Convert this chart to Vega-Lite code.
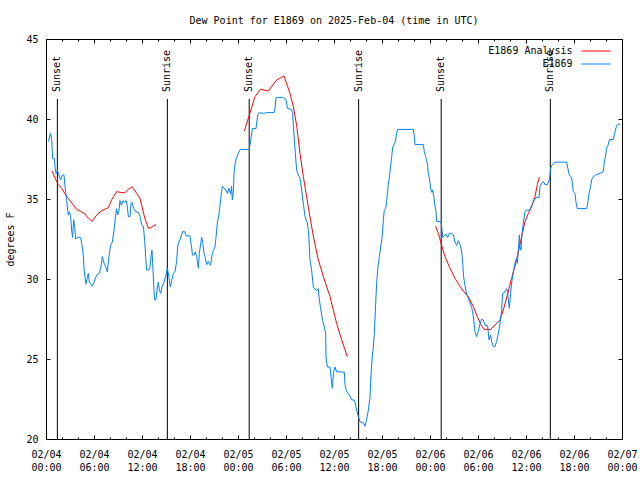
{
  "$schema": "https://vega.github.io/schema/vega-lite/v6.json",
  "width": 576,
  "height": 400,
  "autosize": {"type": "none"},
  "padding": {"left": 46, "top": 39, "right": 18, "bottom": 41},
  "background": "white",
  "title": {"text": "Dew Point for E1869 on 2025-Feb-04 (time in UTC)", "font": "DejaVu Sans Mono", "fontSize": 10, "fontWeight": "normal", "color": "black", "offset": 8},
  "config": {
    "view": {"stroke": "black", "strokeWidth": 1},
    "axis": {"domain": false, "grid": false, "tickColor": "black", "labelColor": "black", "labelFont": "DejaVu Sans Mono", "labelFontSize": 10, "titleFont": "DejaVu Sans Mono", "titleFontSize": 10, "titleFontWeight": "normal", "titleColor": "black"},
    "legend": {"labelFont": "DejaVu Sans Mono", "labelFontSize": 10, "labelColor": "black"}
  },
  "datasets": {
    "events": [
      {"event": "Sunset", "hour": 1.42},
      {"event": "Sunrise", "hour": 15.17},
      {"event": "Sunset", "hour": 25.4},
      {"event": "Sunrise", "hour": 39.08},
      {"event": "Sunset", "hour": 49.4},
      {"event": "Sunrise", "hour": 63.04}
    ],
    "analysis": [
      {"series": "E1869 Analysis", "segment": 1, "hour": 0.79, "dewpoint": 36.75},
      {"series": "E1869 Analysis", "segment": 1, "hour": 1.125, "dewpoint": 36.3},
      {"series": "E1869 Analysis", "segment": 1, "hour": 1.54, "dewpoint": 35.9},
      {"series": "E1869 Analysis", "segment": 1, "hour": 1.96, "dewpoint": 35.67},
      {"series": "E1869 Analysis", "segment": 1, "hour": 2.46, "dewpoint": 35.25},
      {"series": "E1869 Analysis", "segment": 1, "hour": 2.79, "dewpoint": 35.04},
      {"series": "E1869 Analysis", "segment": 1, "hour": 3.2, "dewpoint": 34.77},
      {"series": "E1869 Analysis", "segment": 1, "hour": 3.83, "dewpoint": 34.35},
      {"series": "E1869 Analysis", "segment": 1, "hour": 4.46, "dewpoint": 34.2},
      {"series": "E1869 Analysis", "segment": 1, "hour": 4.875, "dewpoint": 34.06},
      {"series": "E1869 Analysis", "segment": 1, "hour": 5.29, "dewpoint": 33.8},
      {"series": "E1869 Analysis", "segment": 1, "hour": 5.79, "dewpoint": 33.6},
      {"series": "E1869 Analysis", "segment": 1, "hour": 6.33, "dewpoint": 34.0},
      {"series": "E1869 Analysis", "segment": 1, "hour": 6.96, "dewpoint": 34.27},
      {"series": "E1869 Analysis", "segment": 1, "hour": 7.79, "dewpoint": 34.46},
      {"series": "E1869 Analysis", "segment": 1, "hour": 8.2, "dewpoint": 34.94},
      {"series": "E1869 Analysis", "segment": 1, "hour": 8.83, "dewpoint": 35.46},
      {"series": "E1869 Analysis", "segment": 1, "hour": 9.46, "dewpoint": 35.4},
      {"series": "E1869 Analysis", "segment": 1, "hour": 9.875, "dewpoint": 35.4},
      {"series": "E1869 Analysis", "segment": 1, "hour": 10.29, "dewpoint": 35.6},
      {"series": "E1869 Analysis", "segment": 1, "hour": 10.79, "dewpoint": 35.77},
      {"series": "E1869 Analysis", "segment": 1, "hour": 11.33, "dewpoint": 35.35},
      {"series": "E1869 Analysis", "segment": 1, "hour": 11.75, "dewpoint": 35.04},
      {"series": "E1869 Analysis", "segment": 1, "hour": 11.96, "dewpoint": 34.63},
      {"series": "E1869 Analysis", "segment": 1, "hour": 12.25, "dewpoint": 34.0},
      {"series": "E1869 Analysis", "segment": 1, "hour": 12.5, "dewpoint": 33.58},
      {"series": "E1869 Analysis", "segment": 1, "hour": 12.79, "dewpoint": 33.17},
      {"series": "E1869 Analysis", "segment": 1, "hour": 13.2, "dewpoint": 33.23},
      {"series": "E1869 Analysis", "segment": 1, "hour": 13.75, "dewpoint": 33.4},
      {"series": "E1869 Analysis", "segment": 2, "hour": 24.79, "dewpoint": 39.25},
      {"series": "E1869 Analysis", "segment": 2, "hour": 25.42, "dewpoint": 40.25},
      {"series": "E1869 Analysis", "segment": 2, "hour": 26.125, "dewpoint": 41.4},
      {"series": "E1869 Analysis", "segment": 2, "hour": 26.83, "dewpoint": 41.86},
      {"series": "E1869 Analysis", "segment": 2, "hour": 27.79, "dewpoint": 41.75},
      {"series": "E1869 Analysis", "segment": 2, "hour": 28.83, "dewpoint": 42.44},
      {"series": "E1869 Analysis", "segment": 2, "hour": 29.75, "dewpoint": 42.69},
      {"series": "E1869 Analysis", "segment": 2, "hour": 30.5, "dewpoint": 41.6},
      {"series": "E1869 Analysis", "segment": 2, "hour": 30.92, "dewpoint": 40.77},
      {"series": "E1869 Analysis", "segment": 2, "hour": 31.33, "dewpoint": 39.6},
      {"series": "E1869 Analysis", "segment": 2, "hour": 31.75, "dewpoint": 37.85},
      {"series": "E1869 Analysis", "segment": 2, "hour": 32.17, "dewpoint": 36.4},
      {"series": "E1869 Analysis", "segment": 2, "hour": 32.79, "dewpoint": 34.5},
      {"series": "E1869 Analysis", "segment": 2, "hour": 33.42, "dewpoint": 32.65},
      {"series": "E1869 Analysis", "segment": 2, "hour": 34.04, "dewpoint": 31.2},
      {"series": "E1869 Analysis", "segment": 2, "hour": 34.67, "dewpoint": 30.15},
      {"series": "E1869 Analysis", "segment": 2, "hour": 35.5, "dewpoint": 28.9},
      {"series": "E1869 Analysis", "segment": 2, "hour": 36.33, "dewpoint": 27.23},
      {"series": "E1869 Analysis", "segment": 2, "hour": 36.96, "dewpoint": 26.2},
      {"series": "E1869 Analysis", "segment": 2, "hour": 37.67, "dewpoint": 25.14},
      {"series": "E1869 Analysis", "segment": 3, "hour": 48.7, "dewpoint": 33.3},
      {"series": "E1869 Analysis", "segment": 3, "hour": 49.04, "dewpoint": 32.86},
      {"series": "E1869 Analysis", "segment": 3, "hour": 49.46, "dewpoint": 32.1},
      {"series": "E1869 Analysis", "segment": 3, "hour": 49.875, "dewpoint": 31.4},
      {"series": "E1869 Analysis", "segment": 3, "hour": 50.5, "dewpoint": 30.67},
      {"series": "E1869 Analysis", "segment": 3, "hour": 51.125, "dewpoint": 30.04},
      {"series": "E1869 Analysis", "segment": 3, "hour": 51.67, "dewpoint": 29.6},
      {"series": "E1869 Analysis", "segment": 3, "hour": 52.25, "dewpoint": 29.2},
      {"series": "E1869 Analysis", "segment": 3, "hour": 52.79, "dewpoint": 28.9},
      {"series": "E1869 Analysis", "segment": 3, "hour": 53.42, "dewpoint": 28.27},
      {"series": "E1869 Analysis", "segment": 3, "hour": 53.92, "dewpoint": 27.64},
      {"series": "E1869 Analysis", "segment": 3, "hour": 54.33, "dewpoint": 27.19},
      {"series": "E1869 Analysis", "segment": 3, "hour": 54.75, "dewpoint": 26.85},
      {"series": "E1869 Analysis", "segment": 3, "hour": 55.58, "dewpoint": 26.85},
      {"series": "E1869 Analysis", "segment": 3, "hour": 56.125, "dewpoint": 27.13},
      {"series": "E1869 Analysis", "segment": 3, "hour": 56.75, "dewpoint": 27.44},
      {"series": "E1869 Analysis", "segment": 3, "hour": 57.17, "dewpoint": 28.06},
      {"series": "E1869 Analysis", "segment": 3, "hour": 57.67, "dewpoint": 29.0},
      {"series": "E1869 Analysis", "segment": 3, "hour": 58.2, "dewpoint": 30.04},
      {"series": "E1869 Analysis", "segment": 3, "hour": 58.83, "dewpoint": 31.2},
      {"series": "E1869 Analysis", "segment": 3, "hour": 59.46, "dewpoint": 32.65},
      {"series": "E1869 Analysis", "segment": 3, "hour": 59.875, "dewpoint": 33.58},
      {"series": "E1869 Analysis", "segment": 3, "hour": 60.29, "dewpoint": 34.1},
      {"series": "E1869 Analysis", "segment": 3, "hour": 60.7, "dewpoint": 34.52},
      {"series": "E1869 Analysis", "segment": 3, "hour": 61.125, "dewpoint": 35.15},
      {"series": "E1869 Analysis", "segment": 3, "hour": 61.42, "dewpoint": 35.9},
      {"series": "E1869 Analysis", "segment": 3, "hour": 61.67, "dewpoint": 36.36}
    ],
    "obs": [
      {"series": "E1869", "hour": 0.29, "dewpoint": 38.58},
      {"series": "E1869", "hour": 0.5, "dewpoint": 39.0},
      {"series": "E1869", "hour": 0.58, "dewpoint": 39.1},
      {"series": "E1869", "hour": 0.71, "dewpoint": 38.7},
      {"series": "E1869", "hour": 0.79, "dewpoint": 37.96},
      {"series": "E1869", "hour": 0.83, "dewpoint": 37.54},
      {"series": "E1869", "hour": 1.04, "dewpoint": 37.54},
      {"series": "E1869", "hour": 1.125, "dewpoint": 37.0},
      {"series": "E1869", "hour": 1.25, "dewpoint": 36.6},
      {"series": "E1869", "hour": 1.42, "dewpoint": 36.8},
      {"series": "E1869", "hour": 1.6, "dewpoint": 36.5},
      {"series": "E1869", "hour": 1.83, "dewpoint": 36.2},
      {"series": "E1869", "hour": 2.04, "dewpoint": 36.5},
      {"series": "E1869", "hour": 2.25, "dewpoint": 36.5},
      {"series": "E1869", "hour": 2.375, "dewpoint": 35.8},
      {"series": "E1869", "hour": 2.46, "dewpoint": 35.45},
      {"series": "E1869", "hour": 2.58, "dewpoint": 34.9},
      {"series": "E1869", "hour": 2.71, "dewpoint": 34.3},
      {"series": "E1869", "hour": 2.79, "dewpoint": 34.0},
      {"series": "E1869", "hour": 2.92, "dewpoint": 34.2},
      {"series": "E1869", "hour": 3.08, "dewpoint": 33.9},
      {"series": "E1869", "hour": 3.2, "dewpoint": 33.06},
      {"series": "E1869", "hour": 3.33, "dewpoint": 32.6},
      {"series": "E1869", "hour": 3.46, "dewpoint": 33.7},
      {"series": "E1869", "hour": 3.58, "dewpoint": 33.3},
      {"series": "E1869", "hour": 3.71, "dewpoint": 32.5},
      {"series": "E1869", "hour": 3.92, "dewpoint": 32.6},
      {"series": "E1869", "hour": 4.33, "dewpoint": 32.6},
      {"series": "E1869", "hour": 4.54, "dewpoint": 32.0},
      {"series": "E1869", "hour": 4.67, "dewpoint": 31.4},
      {"series": "E1869", "hour": 4.75, "dewpoint": 30.7},
      {"series": "E1869", "hour": 4.875, "dewpoint": 30.1},
      {"series": "E1869", "hour": 5.0, "dewpoint": 29.7},
      {"series": "E1869", "hour": 5.17, "dewpoint": 30.1},
      {"series": "E1869", "hour": 5.29, "dewpoint": 30.35},
      {"series": "E1869", "hour": 5.42, "dewpoint": 29.8},
      {"series": "E1869", "hour": 5.625, "dewpoint": 29.67},
      {"series": "E1869", "hour": 5.79, "dewpoint": 29.56},
      {"series": "E1869", "hour": 6.0, "dewpoint": 29.8},
      {"series": "E1869", "hour": 6.2, "dewpoint": 30.1},
      {"series": "E1869", "hour": 6.42, "dewpoint": 30.3},
      {"series": "E1869", "hour": 6.67, "dewpoint": 30.35},
      {"series": "E1869", "hour": 6.875, "dewpoint": 30.77},
      {"series": "E1869", "hour": 7.04, "dewpoint": 31.4},
      {"series": "E1869", "hour": 7.25, "dewpoint": 31.0},
      {"series": "E1869", "hour": 7.46, "dewpoint": 30.77},
      {"series": "E1869", "hour": 7.67, "dewpoint": 30.45},
      {"series": "E1869", "hour": 7.875, "dewpoint": 31.4},
      {"series": "E1869", "hour": 8.08, "dewpoint": 32.1},
      {"series": "E1869", "hour": 8.29, "dewpoint": 32.3},
      {"series": "E1869", "hour": 8.5, "dewpoint": 33.06},
      {"series": "E1869", "hour": 8.71, "dewpoint": 34.0},
      {"series": "E1869", "hour": 8.83, "dewpoint": 34.4},
      {"series": "E1869", "hour": 8.96, "dewpoint": 34.0},
      {"series": "E1869", "hour": 9.125, "dewpoint": 34.3},
      {"series": "E1869", "hour": 9.25, "dewpoint": 34.9},
      {"series": "E1869", "hour": 9.42, "dewpoint": 34.6},
      {"series": "E1869", "hour": 9.625, "dewpoint": 34.9},
      {"series": "E1869", "hour": 9.83, "dewpoint": 34.8},
      {"series": "E1869", "hour": 10.04, "dewpoint": 34.9},
      {"series": "E1869", "hour": 10.17, "dewpoint": 34.5},
      {"series": "E1869", "hour": 10.29, "dewpoint": 33.9},
      {"series": "E1869", "hour": 10.5, "dewpoint": 33.9},
      {"series": "E1869", "hour": 10.625, "dewpoint": 34.7},
      {"series": "E1869", "hour": 10.75, "dewpoint": 34.8},
      {"series": "E1869", "hour": 10.96, "dewpoint": 34.4},
      {"series": "E1869", "hour": 11.25, "dewpoint": 34.2},
      {"series": "E1869", "hour": 11.58, "dewpoint": 34.15},
      {"series": "E1869", "hour": 11.75, "dewpoint": 33.9},
      {"series": "E1869", "hour": 11.96, "dewpoint": 33.4},
      {"series": "E1869", "hour": 12.17, "dewpoint": 33.3},
      {"series": "E1869", "hour": 12.33, "dewpoint": 32.44},
      {"series": "E1869", "hour": 12.46, "dewpoint": 31.4},
      {"series": "E1869", "hour": 12.58, "dewpoint": 30.56},
      {"series": "E1869", "hour": 12.83, "dewpoint": 30.56},
      {"series": "E1869", "hour": 13.0, "dewpoint": 30.77},
      {"series": "E1869", "hour": 13.17, "dewpoint": 31.6},
      {"series": "E1869", "hour": 13.25, "dewpoint": 31.8},
      {"series": "E1869", "hour": 13.33, "dewpoint": 31.0},
      {"series": "E1869", "hour": 13.5, "dewpoint": 29.3},
      {"series": "E1869", "hour": 13.58, "dewpoint": 28.7},
      {"series": "E1869", "hour": 13.75, "dewpoint": 28.73},
      {"series": "E1869", "hour": 13.92, "dewpoint": 29.5},
      {"series": "E1869", "hour": 14.04, "dewpoint": 29.8},
      {"series": "E1869", "hour": 14.17, "dewpoint": 29.3},
      {"series": "E1869", "hour": 14.33, "dewpoint": 29.1},
      {"series": "E1869", "hour": 14.5, "dewpoint": 29.5},
      {"series": "E1869", "hour": 14.75, "dewpoint": 29.8},
      {"series": "E1869", "hour": 15.0, "dewpoint": 30.25},
      {"series": "E1869", "hour": 15.17, "dewpoint": 30.67},
      {"series": "E1869", "hour": 15.375, "dewpoint": 30.1},
      {"series": "E1869", "hour": 15.54, "dewpoint": 29.5},
      {"series": "E1869", "hour": 15.71, "dewpoint": 29.9},
      {"series": "E1869", "hour": 15.92, "dewpoint": 30.35},
      {"series": "E1869", "hour": 16.125, "dewpoint": 30.45},
      {"series": "E1869", "hour": 16.33, "dewpoint": 31.1},
      {"series": "E1869", "hour": 16.46, "dewpoint": 32.0},
      {"series": "E1869", "hour": 16.58, "dewpoint": 32.3},
      {"series": "E1869", "hour": 16.75, "dewpoint": 32.44},
      {"series": "E1869", "hour": 17.08, "dewpoint": 32.96},
      {"series": "E1869", "hour": 17.33, "dewpoint": 32.96},
      {"series": "E1869", "hour": 17.5, "dewpoint": 32.7},
      {"series": "E1869", "hour": 18.0, "dewpoint": 32.7},
      {"series": "E1869", "hour": 18.125, "dewpoint": 32.2},
      {"series": "E1869", "hour": 18.25, "dewpoint": 31.8},
      {"series": "E1869", "hour": 18.29, "dewpoint": 31.5},
      {"series": "E1869", "hour": 18.5, "dewpoint": 31.5},
      {"series": "E1869", "hour": 18.67, "dewpoint": 31.7},
      {"series": "E1869", "hour": 18.83, "dewpoint": 31.4},
      {"series": "E1869", "hour": 18.96, "dewpoint": 31.0},
      {"series": "E1869", "hour": 19.04, "dewpoint": 30.67},
      {"series": "E1869", "hour": 19.17, "dewpoint": 31.6},
      {"series": "E1869", "hour": 19.33, "dewpoint": 32.2},
      {"series": "E1869", "hour": 19.46, "dewpoint": 32.6},
      {"series": "E1869", "hour": 19.58, "dewpoint": 32.3},
      {"series": "E1869", "hour": 19.75, "dewpoint": 31.6},
      {"series": "E1869", "hour": 19.875, "dewpoint": 31.4},
      {"series": "E1869", "hour": 20.08, "dewpoint": 30.9},
      {"series": "E1869", "hour": 20.29, "dewpoint": 31.1},
      {"series": "E1869", "hour": 20.42, "dewpoint": 30.94},
      {"series": "E1869", "hour": 20.58, "dewpoint": 30.85},
      {"series": "E1869", "hour": 20.75, "dewpoint": 31.5},
      {"series": "E1869", "hour": 20.92, "dewpoint": 31.8},
      {"series": "E1869", "hour": 21.125, "dewpoint": 32.0},
      {"series": "E1869", "hour": 21.25, "dewpoint": 32.6},
      {"series": "E1869", "hour": 21.42, "dewpoint": 33.5},
      {"series": "E1869", "hour": 21.625, "dewpoint": 34.1},
      {"series": "E1869", "hour": 21.75, "dewpoint": 34.6},
      {"series": "E1869", "hour": 21.92, "dewpoint": 35.35},
      {"series": "E1869", "hour": 22.04, "dewpoint": 35.8},
      {"series": "E1869", "hour": 22.29, "dewpoint": 35.67},
      {"series": "E1869", "hour": 22.5, "dewpoint": 35.56},
      {"series": "E1869", "hour": 22.67, "dewpoint": 35.35},
      {"series": "E1869", "hour": 22.875, "dewpoint": 35.67},
      {"series": "E1869", "hour": 23.08, "dewpoint": 35.3},
      {"series": "E1869", "hour": 23.2, "dewpoint": 35.8},
      {"series": "E1869", "hour": 23.29, "dewpoint": 34.94},
      {"series": "E1869", "hour": 23.42, "dewpoint": 35.46},
      {"series": "E1869", "hour": 23.5, "dewpoint": 36.6},
      {"series": "E1869", "hour": 23.625, "dewpoint": 37.2},
      {"series": "E1869", "hour": 23.83, "dewpoint": 37.6},
      {"series": "E1869", "hour": 24.04, "dewpoint": 37.85},
      {"series": "E1869", "hour": 24.25, "dewpoint": 38.08},
      {"series": "E1869", "hour": 24.54, "dewpoint": 38.1},
      {"series": "E1869", "hour": 25.4, "dewpoint": 38.1},
      {"series": "E1869", "hour": 25.6, "dewpoint": 38.7},
      {"series": "E1869", "hour": 25.8, "dewpoint": 39.4},
      {"series": "E1869", "hour": 26.25, "dewpoint": 39.4},
      {"series": "E1869", "hour": 26.4, "dewpoint": 40.0},
      {"series": "E1869", "hour": 26.54, "dewpoint": 40.35},
      {"series": "E1869", "hour": 26.67, "dewpoint": 40.4},
      {"series": "E1869", "hour": 27.17, "dewpoint": 40.35},
      {"series": "E1869", "hour": 27.58, "dewpoint": 40.4},
      {"series": "E1869", "hour": 28.5, "dewpoint": 40.4},
      {"series": "E1869", "hour": 28.625, "dewpoint": 40.67},
      {"series": "E1869", "hour": 28.75, "dewpoint": 41.33},
      {"series": "E1869", "hour": 28.96, "dewpoint": 41.35},
      {"series": "E1869", "hour": 29.58, "dewpoint": 41.35},
      {"series": "E1869", "hour": 30.0, "dewpoint": 41.2},
      {"series": "E1869", "hour": 30.17, "dewpoint": 40.67},
      {"series": "E1869", "hour": 30.625, "dewpoint": 40.6},
      {"series": "E1869", "hour": 30.83, "dewpoint": 40.4},
      {"series": "E1869", "hour": 30.92, "dewpoint": 39.6},
      {"series": "E1869", "hour": 31.04, "dewpoint": 38.7},
      {"series": "E1869", "hour": 31.17, "dewpoint": 37.85},
      {"series": "E1869", "hour": 31.33, "dewpoint": 36.8},
      {"series": "E1869", "hour": 31.54, "dewpoint": 36.5},
      {"series": "E1869", "hour": 31.75, "dewpoint": 36.3},
      {"series": "E1869", "hour": 31.96, "dewpoint": 35.56},
      {"series": "E1869", "hour": 32.17, "dewpoint": 34.7},
      {"series": "E1869", "hour": 32.375, "dewpoint": 33.9},
      {"series": "E1869", "hour": 32.67, "dewpoint": 33.5},
      {"series": "E1869", "hour": 32.83, "dewpoint": 32.86},
      {"series": "E1869", "hour": 33.0, "dewpoint": 31.2},
      {"series": "E1869", "hour": 33.2, "dewpoint": 30.56},
      {"series": "E1869", "hour": 33.42, "dewpoint": 29.5},
      {"series": "E1869", "hour": 33.625, "dewpoint": 29.36},
      {"series": "E1869", "hour": 33.83, "dewpoint": 29.3},
      {"series": "E1869", "hour": 34.04, "dewpoint": 29.4},
      {"series": "E1869", "hour": 34.17, "dewpoint": 28.7},
      {"series": "E1869", "hour": 34.33, "dewpoint": 28.17},
      {"series": "E1869", "hour": 34.58, "dewpoint": 27.4},
      {"series": "E1869", "hour": 34.79, "dewpoint": 27.0},
      {"series": "E1869", "hour": 34.96, "dewpoint": 26.6},
      {"series": "E1869", "hour": 35.0, "dewpoint": 25.14},
      {"series": "E1869", "hour": 35.17, "dewpoint": 24.5},
      {"series": "E1869", "hour": 35.5, "dewpoint": 24.5},
      {"series": "E1869", "hour": 35.625, "dewpoint": 23.9},
      {"series": "E1869", "hour": 35.79, "dewpoint": 23.17},
      {"series": "E1869", "hour": 35.92, "dewpoint": 24.1},
      {"series": "E1869", "hour": 36.125, "dewpoint": 24.5},
      {"series": "E1869", "hour": 36.33, "dewpoint": 24.2},
      {"series": "E1869", "hour": 36.75, "dewpoint": 24.2},
      {"series": "E1869", "hour": 37.29, "dewpoint": 24.17},
      {"series": "E1869", "hour": 37.375, "dewpoint": 23.4},
      {"series": "E1869", "hour": 37.58, "dewpoint": 22.96},
      {"series": "E1869", "hour": 37.92, "dewpoint": 22.75},
      {"series": "E1869", "hour": 38.2, "dewpoint": 22.44},
      {"series": "E1869", "hour": 38.5, "dewpoint": 22.44},
      {"series": "E1869", "hour": 38.6, "dewpoint": 22.33},
      {"series": "E1869", "hour": 38.83, "dewpoint": 21.8},
      {"series": "E1869", "hour": 39.04, "dewpoint": 21.4},
      {"series": "E1869", "hour": 39.25, "dewpoint": 21.08},
      {"series": "E1869", "hour": 39.67, "dewpoint": 21.0},
      {"series": "E1869", "hour": 39.875, "dewpoint": 20.8},
      {"series": "E1869", "hour": 40.08, "dewpoint": 21.2},
      {"series": "E1869", "hour": 40.29, "dewpoint": 21.8},
      {"series": "E1869", "hour": 40.5, "dewpoint": 22.6},
      {"series": "E1869", "hour": 40.625, "dewpoint": 24.0},
      {"series": "E1869", "hour": 40.75, "dewpoint": 24.94},
      {"series": "E1869", "hour": 40.92, "dewpoint": 25.77},
      {"series": "E1869", "hour": 41.04, "dewpoint": 26.6},
      {"series": "E1869", "hour": 41.17, "dewpoint": 28.06},
      {"series": "E1869", "hour": 41.33, "dewpoint": 29.73},
      {"series": "E1869", "hour": 41.5, "dewpoint": 30.77},
      {"series": "E1869", "hour": 41.67, "dewpoint": 31.4},
      {"series": "E1869", "hour": 41.875, "dewpoint": 32.1},
      {"series": "E1869", "hour": 42.04, "dewpoint": 32.75},
      {"series": "E1869", "hour": 42.17, "dewpoint": 33.7},
      {"series": "E1869", "hour": 42.29, "dewpoint": 34.3},
      {"series": "E1869", "hour": 42.46, "dewpoint": 34.4},
      {"series": "E1869", "hour": 42.58, "dewpoint": 34.9},
      {"series": "E1869", "hour": 42.79, "dewpoint": 35.9},
      {"series": "E1869", "hour": 43.0, "dewpoint": 36.7},
      {"series": "E1869", "hour": 43.2, "dewpoint": 37.6},
      {"series": "E1869", "hour": 43.33, "dewpoint": 38.2},
      {"series": "E1869", "hour": 43.5, "dewpoint": 38.4},
      {"series": "E1869", "hour": 43.67, "dewpoint": 38.58},
      {"series": "E1869", "hour": 43.83, "dewpoint": 39.1},
      {"series": "E1869", "hour": 43.96, "dewpoint": 39.35},
      {"series": "E1869", "hour": 45.92, "dewpoint": 39.35},
      {"series": "E1869", "hour": 46.04, "dewpoint": 38.9},
      {"series": "E1869", "hour": 46.125, "dewpoint": 38.4},
      {"series": "E1869", "hour": 47.17, "dewpoint": 38.4},
      {"series": "E1869", "hour": 47.29, "dewpoint": 37.96},
      {"series": "E1869", "hour": 47.46, "dewpoint": 37.65},
      {"series": "E1869", "hour": 47.67, "dewpoint": 37.2},
      {"series": "E1869", "hour": 47.79, "dewpoint": 36.6},
      {"series": "E1869", "hour": 47.92, "dewpoint": 36.3},
      {"series": "E1869", "hour": 48.125, "dewpoint": 35.56},
      {"series": "E1869", "hour": 48.25, "dewpoint": 35.4},
      {"series": "E1869", "hour": 48.33, "dewpoint": 35.56},
      {"series": "E1869", "hour": 48.46, "dewpoint": 35.25},
      {"series": "E1869", "hour": 48.58, "dewpoint": 34.7},
      {"series": "E1869", "hour": 48.75, "dewpoint": 34.2},
      {"series": "E1869", "hour": 48.83, "dewpoint": 33.6},
      {"series": "E1869", "hour": 49.375, "dewpoint": 33.58},
      {"series": "E1869", "hour": 49.46, "dewpoint": 33.27},
      {"series": "E1869", "hour": 49.6, "dewpoint": 32.6},
      {"series": "E1869", "hour": 49.75, "dewpoint": 32.7},
      {"series": "E1869", "hour": 50.0, "dewpoint": 32.8},
      {"series": "E1869", "hour": 50.2, "dewpoint": 32.6},
      {"series": "E1869", "hour": 50.42, "dewpoint": 32.86},
      {"series": "E1869", "hour": 50.7, "dewpoint": 32.86},
      {"series": "E1869", "hour": 50.92, "dewpoint": 32.75},
      {"series": "E1869", "hour": 51.125, "dewpoint": 32.3},
      {"series": "E1869", "hour": 51.33, "dewpoint": 32.1},
      {"series": "E1869", "hour": 51.54, "dewpoint": 32.4},
      {"series": "E1869", "hour": 51.75, "dewpoint": 32.15},
      {"series": "E1869", "hour": 51.96, "dewpoint": 31.75},
      {"series": "E1869", "hour": 52.1, "dewpoint": 30.9},
      {"series": "E1869", "hour": 52.2, "dewpoint": 30.15},
      {"series": "E1869", "hour": 52.375, "dewpoint": 29.6},
      {"series": "E1869", "hour": 52.58, "dewpoint": 29.05},
      {"series": "E1869", "hour": 52.79, "dewpoint": 28.8},
      {"series": "E1869", "hour": 53.0, "dewpoint": 28.5},
      {"series": "E1869", "hour": 53.2, "dewpoint": 28.27},
      {"series": "E1869", "hour": 53.42, "dewpoint": 27.64},
      {"series": "E1869", "hour": 53.625, "dewpoint": 26.7},
      {"series": "E1869", "hour": 53.83, "dewpoint": 26.4},
      {"series": "E1869", "hour": 54.04, "dewpoint": 26.7},
      {"series": "E1869", "hour": 54.25, "dewpoint": 27.2},
      {"series": "E1869", "hour": 54.46, "dewpoint": 27.48},
      {"series": "E1869", "hour": 54.67, "dewpoint": 27.44},
      {"series": "E1869", "hour": 54.875, "dewpoint": 27.1},
      {"series": "E1869", "hour": 55.2, "dewpoint": 27.08},
      {"series": "E1869", "hour": 55.375, "dewpoint": 26.2},
      {"series": "E1869", "hour": 55.58, "dewpoint": 26.5},
      {"series": "E1869", "hour": 55.7, "dewpoint": 26.1},
      {"series": "E1869", "hour": 55.92, "dewpoint": 25.77},
      {"series": "E1869", "hour": 56.125, "dewpoint": 25.77},
      {"series": "E1869", "hour": 56.33, "dewpoint": 26.1},
      {"series": "E1869", "hour": 56.54, "dewpoint": 26.6},
      {"series": "E1869", "hour": 56.75, "dewpoint": 27.2},
      {"series": "E1869", "hour": 56.96, "dewpoint": 28.06},
      {"series": "E1869", "hour": 57.08, "dewpoint": 29.1},
      {"series": "E1869", "hour": 57.375, "dewpoint": 29.2},
      {"series": "E1869", "hour": 57.58, "dewpoint": 29.4},
      {"series": "E1869", "hour": 57.71, "dewpoint": 29.1},
      {"series": "E1869", "hour": 57.83, "dewpoint": 28.5},
      {"series": "E1869", "hour": 57.92, "dewpoint": 28.17},
      {"series": "E1869", "hour": 58.08, "dewpoint": 29.1},
      {"series": "E1869", "hour": 58.2, "dewpoint": 29.73},
      {"series": "E1869", "hour": 58.42, "dewpoint": 30.45},
      {"series": "E1869", "hour": 58.625, "dewpoint": 30.98},
      {"series": "E1869", "hour": 58.83, "dewpoint": 31.3},
      {"series": "E1869", "hour": 58.92, "dewpoint": 30.98},
      {"series": "E1869", "hour": 59.04, "dewpoint": 31.8},
      {"series": "E1869", "hour": 59.17, "dewpoint": 32.75},
      {"series": "E1869", "hour": 59.25, "dewpoint": 32.0},
      {"series": "E1869", "hour": 59.375, "dewpoint": 31.8},
      {"series": "E1869", "hour": 59.5, "dewpoint": 32.86},
      {"series": "E1869", "hour": 59.67, "dewpoint": 33.5},
      {"series": "E1869", "hour": 59.875, "dewpoint": 34.2},
      {"series": "E1869", "hour": 60.0, "dewpoint": 34.3},
      {"series": "E1869", "hour": 60.42, "dewpoint": 34.3},
      {"series": "E1869", "hour": 60.625, "dewpoint": 34.5},
      {"series": "E1869", "hour": 60.83, "dewpoint": 34.7},
      {"series": "E1869", "hour": 61.04, "dewpoint": 34.94},
      {"series": "E1869", "hour": 61.33, "dewpoint": 35.1},
      {"series": "E1869", "hour": 61.625, "dewpoint": 35.1},
      {"series": "E1869", "hour": 61.75, "dewpoint": 35.77},
      {"series": "E1869", "hour": 61.96, "dewpoint": 35.98},
      {"series": "E1869", "hour": 62.17, "dewpoint": 36.1},
      {"series": "E1869", "hour": 62.375, "dewpoint": 35.9},
      {"series": "E1869", "hour": 62.67, "dewpoint": 35.9},
      {"series": "E1869", "hour": 62.79, "dewpoint": 36.04},
      {"series": "E1869", "hour": 62.96, "dewpoint": 36.3},
      {"series": "E1869", "hour": 63.08, "dewpoint": 36.9},
      {"series": "E1869", "hour": 63.2, "dewpoint": 37.1},
      {"series": "E1869", "hour": 63.42, "dewpoint": 37.2},
      {"series": "E1869", "hour": 63.625, "dewpoint": 37.3},
      {"series": "E1869", "hour": 65.08, "dewpoint": 37.3},
      {"series": "E1869", "hour": 65.2, "dewpoint": 37.0},
      {"series": "E1869", "hour": 65.42, "dewpoint": 36.5},
      {"series": "E1869", "hour": 65.58, "dewpoint": 36.4},
      {"series": "E1869", "hour": 65.75, "dewpoint": 36.2},
      {"series": "E1869", "hour": 65.92, "dewpoint": 35.46},
      {"series": "E1869", "hour": 66.125, "dewpoint": 35.35},
      {"series": "E1869", "hour": 66.25, "dewpoint": 34.8},
      {"series": "E1869", "hour": 66.42, "dewpoint": 34.4},
      {"series": "E1869", "hour": 67.58, "dewpoint": 34.4},
      {"series": "E1869", "hour": 67.71, "dewpoint": 34.7},
      {"series": "E1869", "hour": 67.875, "dewpoint": 35.35},
      {"series": "E1869", "hour": 68.08, "dewpoint": 35.77},
      {"series": "E1869", "hour": 68.2, "dewpoint": 36.2},
      {"series": "E1869", "hour": 68.42, "dewpoint": 36.4},
      {"series": "E1869", "hour": 68.71, "dewpoint": 36.5},
      {"series": "E1869", "hour": 69.58, "dewpoint": 36.67},
      {"series": "E1869", "hour": 69.67, "dewpoint": 36.8},
      {"series": "E1869", "hour": 69.79, "dewpoint": 37.3},
      {"series": "E1869", "hour": 69.92, "dewpoint": 37.6},
      {"series": "E1869", "hour": 70.08, "dewpoint": 38.2},
      {"series": "E1869", "hour": 70.29, "dewpoint": 38.4},
      {"series": "E1869", "hour": 70.42, "dewpoint": 38.7},
      {"series": "E1869", "hour": 70.92, "dewpoint": 38.73},
      {"series": "E1869", "hour": 71.125, "dewpoint": 39.2},
      {"series": "E1869", "hour": 71.33, "dewpoint": 39.6},
      {"series": "E1869", "hour": 71.46, "dewpoint": 39.67},
      {"series": "E1869", "hour": 71.75, "dewpoint": 39.67}
    ]
  },
  "resolve": {"axis": {"x": "independent", "y": "independent"}},
  "layer": [
    {
      "data": {"name": "events"},
      "mark": {"type": "rule", "color": "black", "strokeWidth": 1},
      "encoding": {
        "x": {"field": "hour", "type": "quantitative", "scale": {"domain": [0, 72], "nice": false, "zero": false},
              "axis": {"orient": "top", "values": [0, 6, 12, 18, 24, 30, 36, 42, 48, 54, 60, 66, 72], "labels": false, "tickSize": -4, "title": null}},
        "y": {"datum": 41.25, "type": "quantitative", "scale": {"domain": [20, 45], "nice": false, "zero": false},
              "axis": {"orient": "right", "values": [20, 25, 30, 35, 40, 45], "labels": false, "tickSize": -4, "title": null}},
        "y2": {"datum": 20}
      }
    },
    {
      "data": {"name": "events"},
      "mark": {"type": "text", "angle": 270, "align": "left", "baseline": "middle", "font": "DejaVu Sans Mono", "fontSize": 10, "color": "black"},
      "encoding": {
        "x": {"field": "hour", "type": "quantitative",
              "axis": {"orient": "top", "values": [2, 4, 8, 10, 14, 16, 20, 22, 26, 28, 32, 34, 38, 40, 44, 46, 50, 52, 56, 58, 62, 64, 68, 70], "labels": false, "tickSize": -2, "title": null}},
        "y": {"datum": 41.68, "type": "quantitative", "axis": null},
        "text": {"field": "event"}
      }
    },
    {
      "data": {"name": "analysis"},
      "mark": {"type": "line", "strokeWidth": 1},
      "encoding": {
        "x": {"field": "hour", "type": "quantitative",
              "axis": {"orient": "bottom", "values": [0, 6, 12, 18, 24, 30, 36, 42, 48, 54, 60, 66, 72], "tickSize": -4, "labelPadding": 14, "labelBaseline": "top", "labelLineHeight": 13, "labelFlush": false, "labelOverlap": false,
                       "labelExpr": "['02/0' + (4 + floor(datum.value / 24)), ((datum.value % 24) < 10 ? '0' : '') + (datum.value % 24) + ':00']", "title": null}},
        "y": {"field": "dewpoint", "type": "quantitative",
              "axis": {"orient": "left", "values": [20, 25, 30, 35, 40, 45], "tickSize": -4, "labelPadding": 12, "title": "degrees F", "titlePadding": 10}},
        "color": {"field": "series", "type": "nominal",
                  "scale": {"domain": ["E1869 Analysis", "E1869"], "range": ["#ff0000", "#0080ff"]},
                  "legend": {"title": null, "orient": "none", "legendX": 545, "legendY": 7, "symbolType": "M-5,0H5", "symbolSize": 33.6, "symbolStrokeWidth": 1, "labelAlign": "right", "labelOffset": -28.4, "rowPadding": 3}},
        "detail": {"field": "segment"}
      }
    },
    {
      "data": {"name": "obs"},
      "mark": {"type": "line", "strokeWidth": 1},
      "encoding": {
        "x": {"field": "hour", "type": "quantitative",
              "axis": {"orient": "bottom", "values": [2, 4, 8, 10, 14, 16, 20, 22, 26, 28, 32, 34, 38, 40, 44, 46, 50, 52, 56, 58, 62, 64, 68, 70], "labels": false, "tickSize": -2, "title": null}},
        "y": {"field": "dewpoint", "type": "quantitative", "axis": null},
        "color": {"field": "series", "type": "nominal"}
      }
    }
  ]
}
